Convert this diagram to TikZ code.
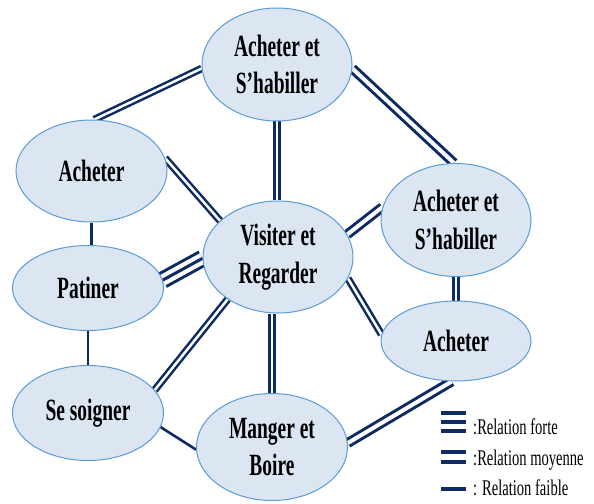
\documentclass[tikz,border=0pt]{standalone}
\usepackage{fontspec}
\usetikzlibrary{shapes.geometric}
\newfontfamily\nodefont[FakeStretch=0.63]{Liberation Serif}
\newfontfamily\legfont[FakeStretch=0.65]{Liberation Serif}
\definecolor{navy}{HTML}{0E2A63}
\definecolor{ellfill}{HTML}{DCE6F3}
\definecolor{ellline}{HTML}{5B9BD5}
\pgfdeclarelayer{background}
\pgfsetlayers{background,main}
\begin{document}
\begin{tikzpicture}[x=1bp,y=-1bp,
  ell/.style={ellipse, draw=ellline, line width=1bp, fill=ellfill, inner sep=0pt,
    align=center, font=\nodefont\bfseries\fontsize{31}{38}\selectfont},
  weakline/.style={draw=navy, line width=2.6bp},
  midline/.style={draw=navy, line width=2.5bp, double=white, double distance=2.5bp},
  midwide/.style={draw=navy, line width=3bp, double=white, double distance=4bp},
  strongouter/.style={draw=navy, line width=3bp, double=white, double distance=11.4bp},
  strongcenter/.style={draw=navy, line width=3bp},
  legbar/.style={draw=navy, line width=3.3bp},
  legtext/.style={inner sep=0pt, anchor=base west, font=\legfont\fontsize{22.5}{24}\selectfont}
]
\useasboundingbox (0,0) rectangle (594,504);

\node[ell, minimum width=150bp, minimum height=113bp] (T)  at (277,64.5) {Acheter et\\S’habiller};
\node[ell, minimum width=151bp, minimum height=102bp] (AL) at (91.5,171) {Acheter};
\node[ell, minimum width=151bp, minimum height=85bp]  (P)  at (88,288) {Patiner};
\node[ell, minimum width=151bp, minimum height=95bp]  (S)  at (88,413) {Se soigner};
\node[ell, minimum width=150bp, minimum height=112bp] (V)  at (278,257) {Visiter et\\Regarder};
\node[ell, minimum width=150bp, minimum height=113bp] (RA) at (456,220) {Acheter et\\S’habiller};
\node[ell, minimum width=150bp, minimum height=80bp]  (RB) at (456,341) {Acheter};
\node[ell, minimum width=151bp, minimum height=107bp] (M)  at (272,447) {Manger et\\Boire};

\begin{pgfonlayer}{background}
  \draw[midline] (T.183) -- (AL.87);
  \draw[midline] (T.south) -- (T.south |- V.north);
  \draw[midwide] (T.357) -- (RA.92);
  \draw[midline] (AL.10) -- (V.148);
  \draw[weakline] (AL.south) -- (AL.south |- P.north);
  \draw[strongouter] (P.6) -- (V.181);
  \draw[strongcenter] (P.6) -- (V.181);
  \draw[weakline] (P.south) -- (S.north);
  \draw[midline] (S.19.5) -- (V.220.5);
  \draw[weakline] (S.349) -- (M.182);
  \draw[midline] (M.north |- V.south) -- (M.north);
  \draw[midwide] (V.18) -- (RA.170);
  \draw[midline] (V.343) -- (RB.175);
  \draw[midline] (RA.south) -- (RB.north);
  \draw[midwide] (M.3) -- (RB.264);
\end{pgfonlayer}

% legend
\draw[legbar] (441,413) -- (466,413);
\draw[legbar] (441,422) -- (466,422);
\draw[legbar] (441,431) -- (466,431);
\draw[legbar] (441,452) -- (466,452);
\draw[legbar] (441,462) -- (466,462);
\draw[legbar] (441,489) -- (466,489);
\node[legtext] (L1) at (473,434) {:Relation forte};
\node[legtext] (L2) at (473,465) {:Relation moyenne};
\node[legtext] (L3) at (473,495) {: Relation faible};
\end{tikzpicture}
\end{document}
